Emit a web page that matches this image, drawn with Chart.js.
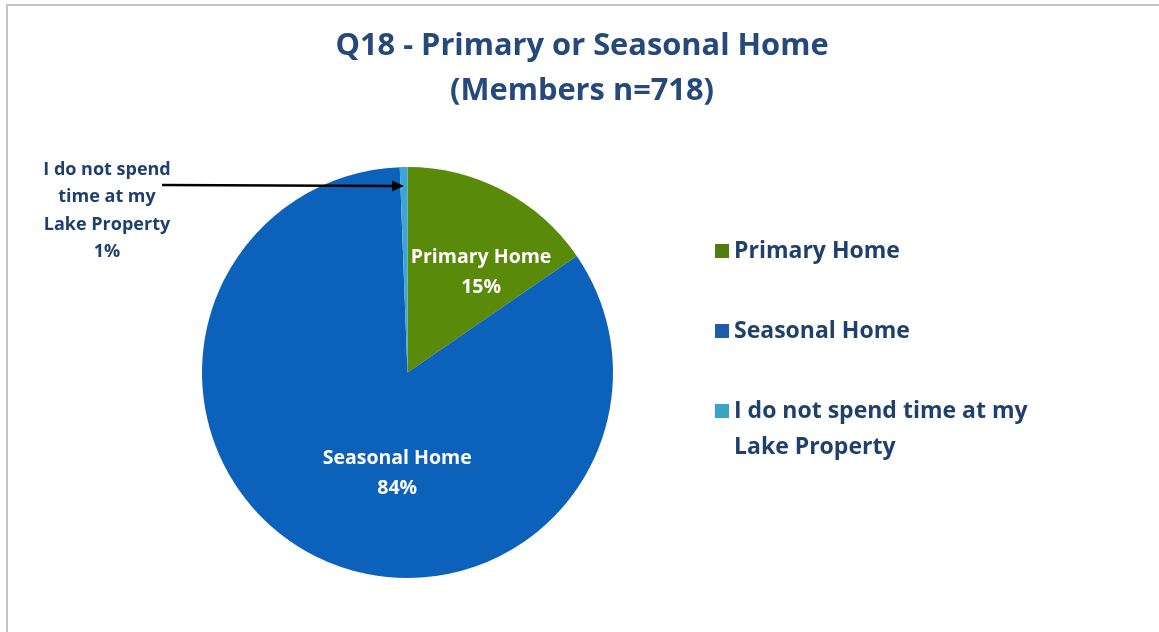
<!DOCTYPE html>
<html>
<head>
<meta charset="utf-8">
<script src="https://cdn.jsdelivr.net/npm/chart.js@4"></script>
<style>
  html, body { margin: 0; padding: 0; background: #ffffff; }
  #wrap { position: relative; width: 1159px; height: 632px; }
  #frame { position: absolute; left: 6px; top: 4px; right: -2px; bottom: -2px; border-left: 2px solid #c4c4c4; border-top: 2px solid #c4c4c4; }
  canvas { position: absolute; left: 0; top: 0; }
</style>
</head>
<body>
<div id="wrap">
  <div id="frame"></div>
  <canvas id="c" width="1159" height="632"></canvas>
</div>
<script>
const titleLines = ["Q18 - Primary or Seasonal Home", "(Members n=718)"];
const categories = ["Primary Home", "Seasonal Home", "I do not spend time at my Lake Property"];
const values = [15.4, 84.0, 0.6];
const shownPercents = ["15%", "84%", "1%"];
const sliceColors = ["#5a8a0a", "#0c62bb", "#3ea6d6"];
const legendColors = ["#4f7d10", "#1d5ea8", "#3aa4c8"];
const legendLines = [["Primary Home"], ["Seasonal Home"], ["I do not spend time at my", "Lake Property"]];
const outsideLabelLines = ["I do not spend", "time at my", "Lake Property", "1%"];

const FONT = "'Open Sans', sans-serif";
const TEXT = "#1f3f6d";
// label anchor offsets, in units of the pie radius
const labelOffsets = [[0.358, -0.489], [-0.05, 0.49]];

const overlay = {
  id: 'overlay',
  afterDraw(chart) {
    const ctx = chart.ctx;
    const meta = chart.getDatasetMeta(0);
    ctx.save();
    // Title
    ctx.fillStyle = "#24497a";
    ctx.textAlign = "center";
    ctx.textBaseline = "middle";
    ctx.font = "bold 30.8px " + FONT;
    ctx.fillText(titleLines[0], 582, 46);
    ctx.fillText(titleLines[1], 582, 91);

    // In-slice labels
    ctx.fillStyle = "#ffffff";
    ctx.font = "bold 19.5px " + FONT;
    [0, 1].forEach(i => {
      const arc = meta.data[i];
      const x = arc.x + labelOffsets[i][0] * arc.outerRadius;
      const y = arc.y + labelOffsets[i][1] * arc.outerRadius;
      ctx.fillText(categories[i], x, y - 15);
      ctx.fillText(shownPercents[i], x, y + 15);
    });

    // Outside label for small slice
    ctx.fillStyle = TEXT;
    ctx.font = "bold 18px " + FONT;
    outsideLabelLines.forEach((t, k) => ctx.fillText(t, 107, 170 + k * 27.3));

    // Arrow to small slice
    const a2 = meta.data[2];
    const mid2 = (a2.startAngle + a2.endAngle) / 2;
    const tipX = a2.x + Math.cos(mid2) * (a2.outerRadius - 19);
    const tipY = 186;
    ctx.strokeStyle = "#000000";
    ctx.fillStyle = "#000000";
    ctx.lineWidth = 2.5;
    ctx.beginPath();
    ctx.moveTo(162, 185);
    ctx.lineTo(tipX - 10, tipY);
    ctx.stroke();
    ctx.beginPath();
    ctx.moveTo(tipX, tipY);
    ctx.lineTo(tipX - 12, tipY - 5.5);
    ctx.lineTo(tipX - 12, tipY + 5.5);
    ctx.closePath();
    ctx.fill();

    // Legend
    ctx.textAlign = "left";
    ctx.font = "bold 23px " + FONT;
    const ys = [251, 331, 411];
    legendLines.forEach((lines, i) => {
      ctx.fillStyle = legendColors[i];
      ctx.fillRect(715, ys[i] - 7, 14, 14);
      ctx.fillStyle = TEXT;
      lines.forEach((t, k) => ctx.fillText(t, 734, ys[i] + k * 36));
    });
    ctx.restore();
  }
};

new Chart(document.getElementById('c'), {
  type: 'pie',
  data: {
    labels: categories,
    datasets: [{
      data: values,
      backgroundColor: sliceColors,
      borderWidth: 0
    }]
  },
  options: {
    responsive: false,
    animation: false,
    layout: { padding: { left: 202, right: 546, top: 167, bottom: 54 } },
    plugins: {
      legend: { display: false },
      title: { display: false },
      tooltip: { enabled: false }
    }
  },
  plugins: [overlay]
});
</script>
</body>
</html>
